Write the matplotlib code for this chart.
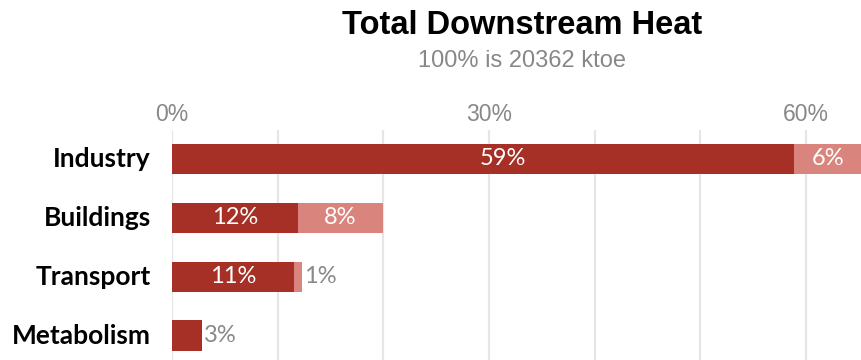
import matplotlib.pyplot as plt
import numpy as np

# data
categories = ['Industry', 'Buildings', 'Transport', 'Metabolism']
first_share = [58.9, 11.9, 11.5, 2.8]
second_share = [6.4, 8.1, 0.8, 0.0]
first_labels = ['59%', '12%', '11%', '']
second_labels = ['6%', '8%', '1%', '3%']

dark_red = '#A62F26'
light_red = '#D9857D'
grey = '#888888'
# small horizontal nudge of the inner labels, as in the original
label_nudge = [1.9, 0, 0, 0]

fig = plt.figure(figsize=(8.61, 3.6), dpi=100)
ax = fig.add_axes([172 / 861, 0.0, 1 - 172 / 861, 1 - 130 / 360])

y = np.arange(len(categories))
ax.barh(y, first_share, height=0.52, color=dark_red, zorder=3)
ax.barh(y, second_share, left=first_share, height=0.52, color=light_red, zorder=3)

ax.set_xlim(0, 65.2)
ax.set_ylim(3.41, -0.49)

# gridlines every 10%, labels only every 30%
ax.set_xticks(np.arange(0, 61, 10))
ax.set_xticklabels(['0%', '', '', '30%', '', '', '60%'])
ax.xaxis.tick_top()
ax.tick_params(axis='x', length=0, pad=3, labelsize=16.5, labelcolor=grey)
for lab in ax.get_xticklabels():
    lab.set_family('Liberation Sans')
ax.grid(axis='x', color='#e6e6e6', linewidth=1.6, zorder=0)
ax.set_yticks([])
for s in ax.spines.values():
    s.set_visible(False)

# category names
for i, name in enumerate(categories):
    ax.text(-2.0, i, name, ha='right', va='center', fontsize=19,
            fontweight='bold', family='Lato', color='black')

# value labels
for i in range(len(categories)):
    if first_labels[i]:
        ax.text(first_share[i] / 2 + label_nudge[i], i, first_labels[i],
                ha='center', va='center', fontsize=17, family='Lato',
                color='white', zorder=4)
    total = first_share[i] + second_share[i]
    if second_share[i] >= 3:
        ax.text(first_share[i] + second_share[i] / 2, i, second_labels[i],
                ha='center', va='center', fontsize=17, family='Lato',
                color='white', zorder=4, clip_on=False)
    else:
        ax.text(total + 0.2, i, second_labels[i], ha='left', va='center',
                fontsize=17, family='Lato', color=grey, zorder=4)

fig.text(0.606, 1 - 26 / 360, 'Total Downstream Heat', ha='center', va='center',
         fontsize=23.5, fontweight='bold', family='Liberation Sans')
fig.text(0.606, 1 - 61 / 360, '100% is 20362 ktoe', ha='center', va='center',
         fontsize=17, family='Liberation Sans', color=grey)

fig.savefig('out.png', dpi=100)
